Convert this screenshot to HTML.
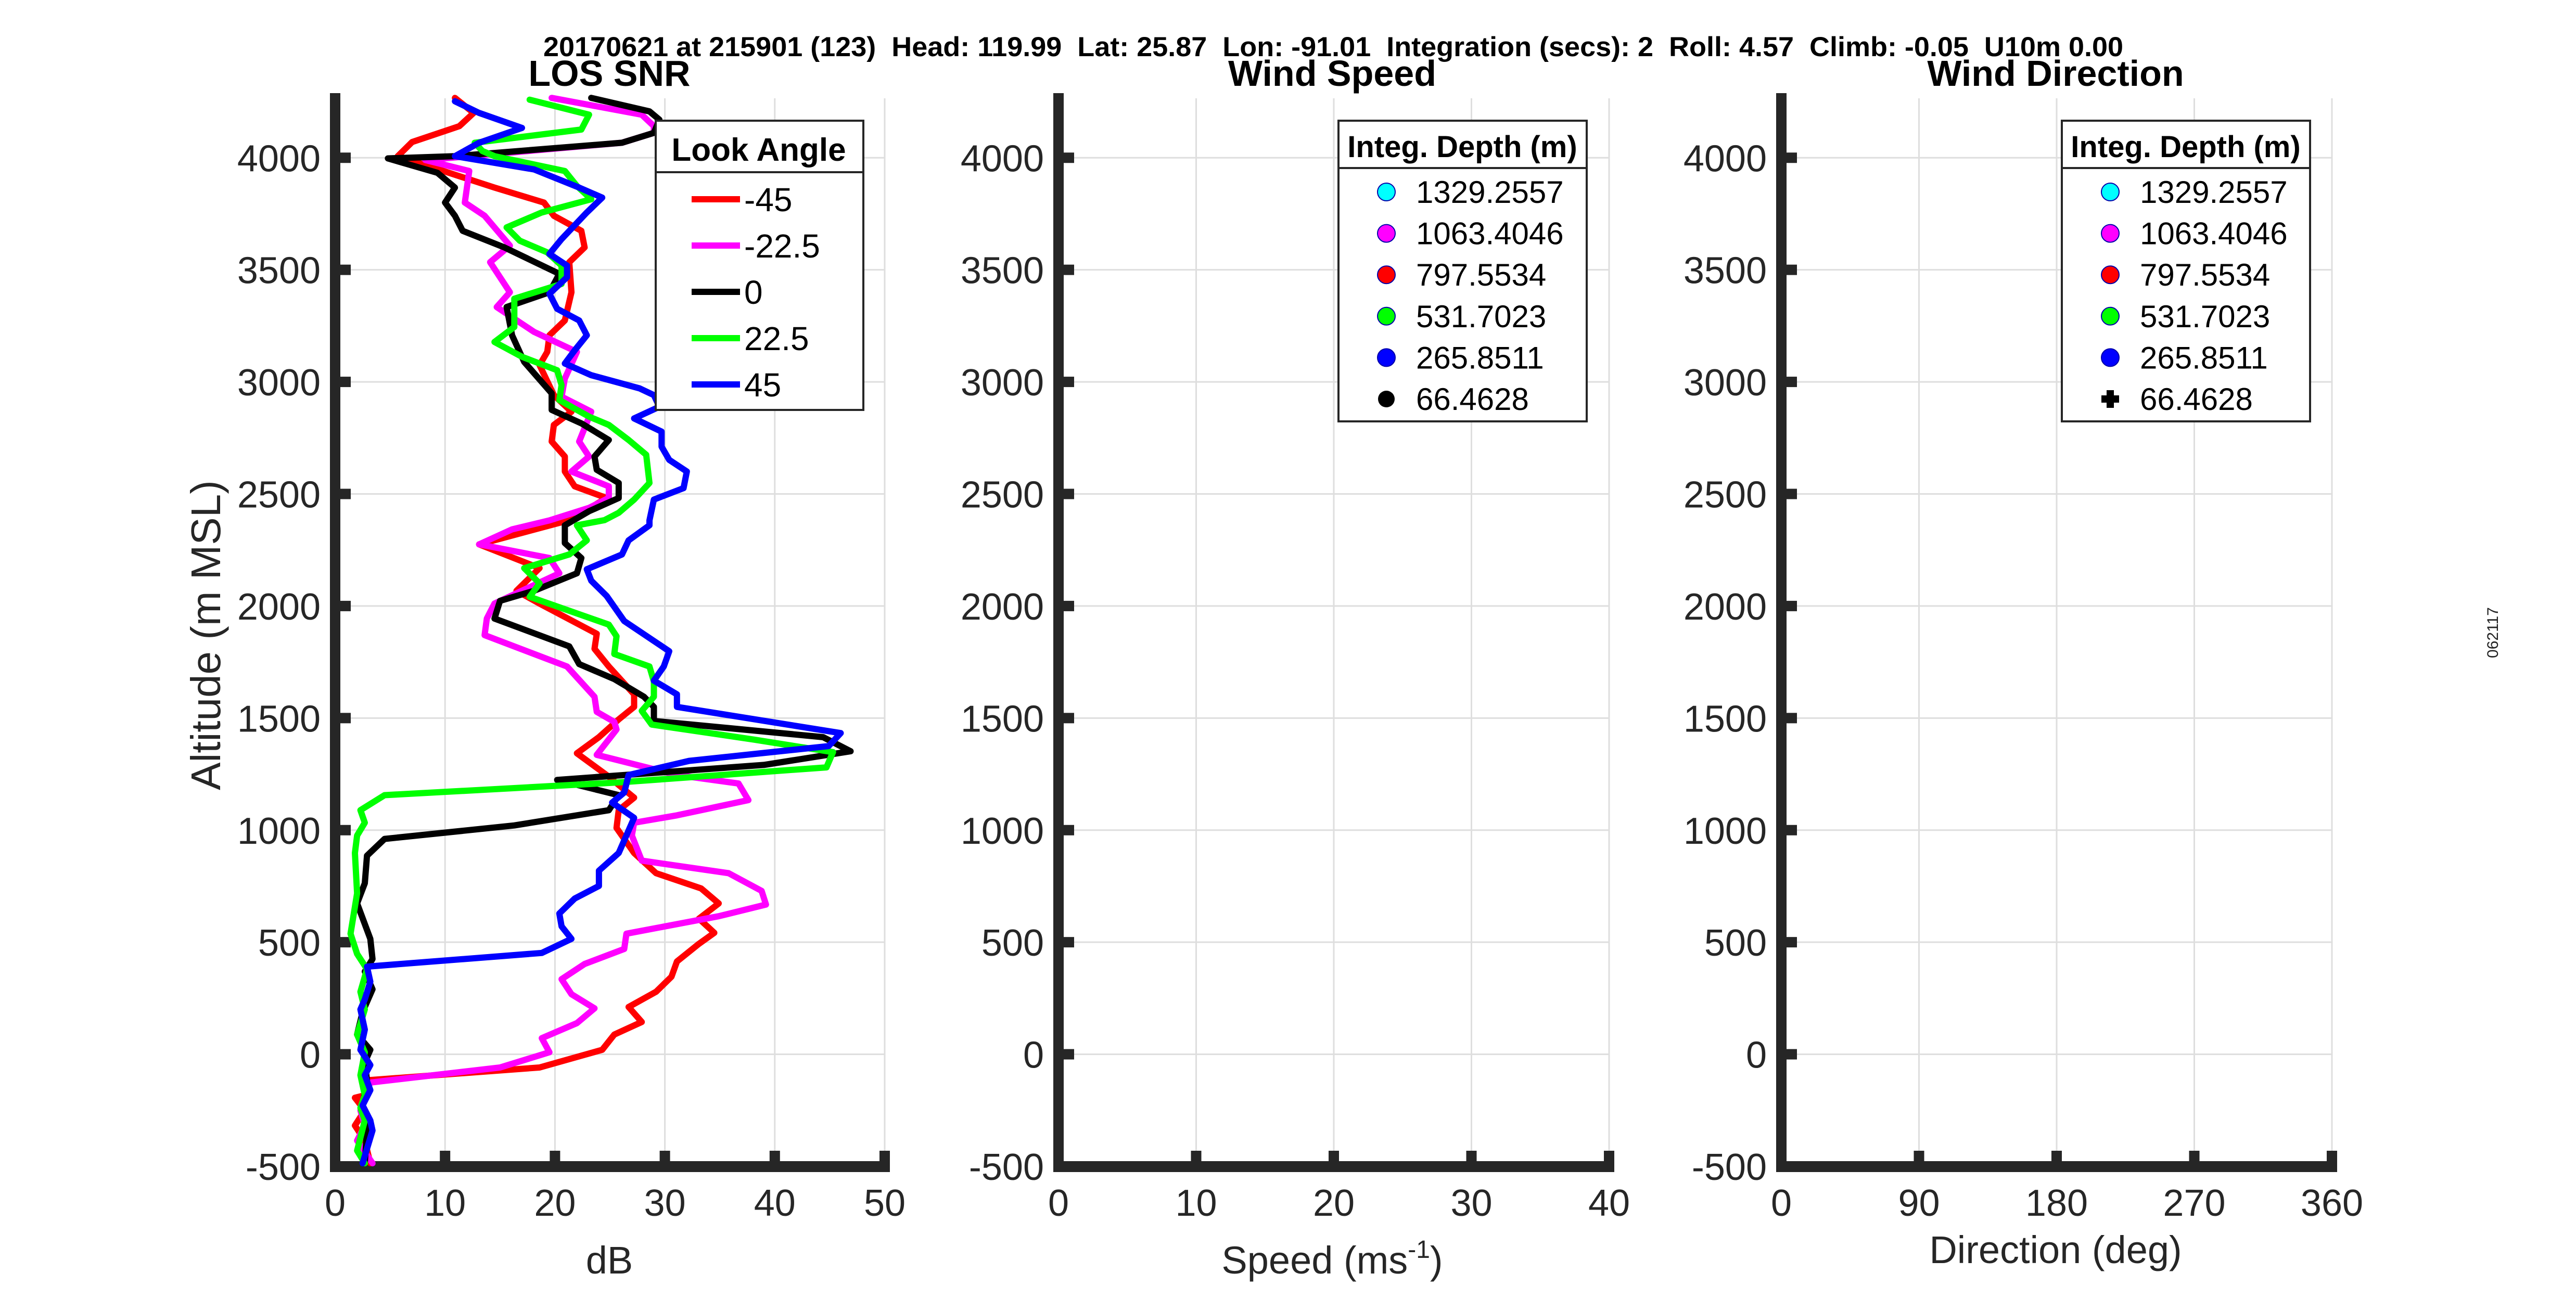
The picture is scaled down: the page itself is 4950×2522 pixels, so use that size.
<!DOCTYPE html>
<html><head><meta charset="utf-8"><style>
html,body{margin:0;padding:0;background:#fff;}
svg{display:block;font-family:"Liberation Sans",Arial,sans-serif;}
svg text{white-space:pre;}
</style></head><body>
<svg id="fig" width="4950" height="2522" viewBox="0 0 4950 2522" xmlns="http://www.w3.org/2000/svg">
<rect width="4950" height="2522" fill="#fff"/>
<text x="2562" y="108" text-anchor="middle" font-size="53" font-weight="bold" textLength="3036" lengthAdjust="spacingAndGlyphs">20170621 at 215901 (123)  Head: 119.99  Lat: 25.87  Lon: -91.01  Integration (secs): 2  Roll: 4.57  Climb: -0.05  U10m 0.00</text>
<text x="4800" y="1216" font-size="30" fill="#222" text-anchor="middle" transform="rotate(-90 4800 1216)">062117</text>
<g id="g1"></g><g id="g2"></g><g id="g3"></g>
</svg>
<script>
const altTicks=[-500,0,500,1000,1500,2000,2500,3000,3500,4000];
const snrTicks=[0,10,20,30,40,50];
const speedTicks=[0,10,20,30,40];
const dirTicks=[0,90,180,270,360];
const lookAngles=['-45','-22.5','0','22.5','45'];
const lookColors=['#ff0000','#ff00ff','#000000','#00ff00','#0000ff'];
const depthLabels=['1329.2557','1063.4046','797.5534','531.7023','265.8511','66.4628'];
const depthColors=['#00ffff','#ff00ff','#ff0000','#00ff00','#0000ff','#000000'];

const altRed=[4267,4200,4141,4070,4007,3867,3800,3741,3674,3600,3534,3400,3274,3208,3134,3075,2941,2867,2808,2734,2667,2600,2534,2482,2383,2275,2169,2068,2011,1876,1809,1730,1606,1550,1494,1415,1343,1246,1145,1089,1010,898,808,740,673,605,542,493,414,346,279,211,144,88,20,-59,-115,-183,-194,-250,-318,-385,-486];
const snrRed=[10.9,12.6,11.3,7.0,5.7,14.5,19.0,19.9,22.4,22.7,21.3,21.5,20.9,19.5,19.3,18.6,19.9,21.5,19.9,19.7,20.9,20.9,21.8,24.7,21.3,13.1,18.6,16.5,18.6,23.8,23.6,24.9,27.2,27.2,25.8,24.0,22.0,24.7,27.2,25.8,25.6,27.2,29.2,33.3,34.9,33.1,34.5,33.1,31.1,30.6,29.2,26.7,27.9,25.4,24.3,18.6,3.2,2.7,1.8,2.7,1.8,2.7,3.2];
const altMag=[4267,4192,4141,4111,4067,3990,3941,3800,3741,3608,3534,3400,3334,3223,3134,3015,2934,2867,2734,2667,2600,2534,2482,2438,2382,2342,2275,2214,2146,2011,1944,1870,1730,1595,1528,1483,1449,1336,1246,1208,1134,1066,1033,976,864,808,729,668,616,538,470,403,335,268,205,139,72,9,-59,-126,-183,-250,-318,-385,-486];
const snrMag=[19.7,27.9,29.0,29.0,26.1,8.2,12.2,11.8,13.6,15.9,14.1,15.9,14.7,18.1,22.0,20.9,20.6,23.3,22.2,23.1,21.5,24.9,24.9,23.1,19.5,16.1,13.1,19.5,20.4,14.5,13.8,13.6,21.1,23.6,23.8,25.4,25.6,23.8,31.1,36.7,37.6,31.1,27.2,27.0,27.9,35.8,38.8,39.2,34.9,26.5,26.3,22.7,20.6,21.5,23.6,22.0,18.8,19.5,15.0,3.2,2.7,2.3,2.7,2.0,3.4];
const altBlk=[4267,4207,4170,4111,4067,4007,3997,3933,3867,3800,3741,3674,3600,3482,3400,3334,3208,3089,2949,2875,2815,2741,2667,2608,2549,2482,2423,2360,2281,2214,2146,2068,2023,1944,1820,1741,1674,1595,1550,1487,1415,1352,1291,1224,1156,1089,1021,961,886,763,673,515,425,369,290,189,88,20,-36,-115,-228,-340,-486];
const snrBlk=[23.3,28.6,29.5,29.0,26.1,10.9,4.8,9.3,10.9,10.0,10.9,11.6,15.4,20.4,19.5,15.6,16.1,17.2,19.7,19.7,22.4,24.9,23.6,23.8,25.8,25.8,23.1,20.9,20.9,22.4,22.0,18.1,15.0,14.5,21.3,22.2,25.4,28.1,29.0,29.0,44.4,46.9,39.0,20.2,25.8,24.9,16.3,4.5,2.9,2.7,2.0,3.2,3.4,2.7,3.4,2.5,2.0,3.2,2.7,2.9,2.5,2.9,2.7];
const altGrn=[4259,4192,4126,4067,4030,4007,3970,3941,3874,3815,3756,3689,3630,3578,3519,3437,3371,3245,3178,3112,3052,2986,2919,2845,2808,2741,2675,2549,2475,2416,2383,2360,2293,2230,2169,2101,2041,1917,1865,1786,1730,1663,1595,1532,1471,1404,1348,1280,1213,1156,1089,1033,976,898,718,538,448,380,279,200,88,9,-93,-183,-239,-295,-430,-486];
const snrGrn=[17.7,23.1,22.4,12.7,13.4,14.5,18.1,20.9,22.0,23.3,18.8,15.6,16.8,19.3,20.6,20.6,16.3,16.3,14.5,17.0,20.2,20.6,20.4,23.1,24.9,26.7,28.3,28.6,27.2,25.8,24.5,22.0,22.9,21.3,17.2,18.6,17.7,24.9,25.6,25.4,28.6,29.0,29.0,27.9,28.8,38.1,45.3,44.7,25.8,4.5,2.3,2.7,2.0,1.8,2.0,1.4,2.0,2.9,2.3,2.7,2.0,2.7,2.3,2.7,2.3,2.7,2.0,2.7];
const altBlu=[4252,4200,4133,4067,4007,3948,3867,3822,3756,3637,3571,3519,3467,3393,3326,3274,3208,3141,3082,3030,2971,2941,2889,2837,2778,2711,2652,2600,2526,2475,2382,2360,2293,2230,2164,2113,2045,1933,1798,1730,1667,1606,1550,1433,1375,1309,1246,1168,1123,1055,898,819,751,695,628,571,515,452,391,324,245,200,110,20,-48,-93,-160,-228,-295,-340,-486];
const snrBlu=[10.9,13.1,17.0,13.1,10.9,18.1,22.2,24.3,22.9,20.6,19.5,21.1,21.1,19.5,20.2,22.2,22.9,21.8,20.9,23.3,27.7,29.0,29.5,27.2,29.7,29.7,30.4,32.0,31.7,29.0,28.6,28.6,26.7,26.1,22.9,23.3,24.7,26.3,30.4,29.9,29.0,31.1,31.1,46.0,44.9,32.2,26.7,26.3,25.2,27.2,25.8,24.0,24.0,21.8,20.4,20.6,21.5,18.8,2.9,3.2,2.7,2.3,2.7,2.3,3.2,2.7,3.2,2.5,3.2,3.4,2.5];

const NS='http://www.w3.org/2000/svg';
function mk(parent,tag,attrs,text){const e=document.createElementNS(NS,tag);for(const k in attrs)e.setAttribute(k,attrs[k]);if(text!==undefined)e.textContent=text;parent.appendChild(e);return e;}
const Y0=2242,Y1=174,YMIN=-500,YMAX=4300;
function yS(v){return Y0-(v-YMIN)*(Y0-Y1)/(YMAX-YMIN);}

function panel(g,x0,x1,xmin,xmax,xticks,title,xlabel,tcx,xlabY){
  const xS=v=>x0+(v-xmin)*(x1-x0)/(xmax-xmin);
  xticks.forEach(t=>{if(t===xmin)return;
    const l=mk(g,'line',{x1:xS(t),x2:xS(t),y1:189,y2:2232,stroke:'#dedede','stroke-width':3});
    
    });
  altTicks.forEach(t=>{if(t===YMIN)return;
    const l=mk(g,'line',{x1:x0,x2:x1,y1:yS(t),y2:yS(t),stroke:'#dedede','stroke-width':3});
    
    });
  const ya=mk(g,'rect',{x:x0-10,y:179,width:20,height:2253-179,fill:'#262626'});
  
  
  const xa=mk(g,'rect',{x:x0-10,y:2232,width:x1-x0+20,height:21,fill:'#262626'});
  
  
  altTicks.forEach(t=>{
    const r=mk(g,'rect',{x:x0+10,y:yS(t)-10,width:20,height:20,fill:'#262626'});
    
    
    const tx=mk(g,'text',{x:x0-28,y:yS(t)+26,'text-anchor':'end','font-size':72,fill:'#262626'},String(t));
    
    });
  xticks.forEach(t=>{
    const r=mk(g,'rect',{x:xS(t)-10,y:2212,width:20,height:20,fill:'#262626'});
    
    
    const tx=mk(g,'text',{x:xS(t),y:2337,'text-anchor':'middle','font-size':72,fill:'#262626'},String(t));
    
    });
  const tt=mk(g,'text',{x:tcx,y:165,'text-anchor':'middle','font-size':70,'font-weight':'bold'},title);
  
  
  const xl=mk(g,'text',{x:tcx,y:xlabY,'text-anchor':'middle','font-size':74,fill:'#262626'});
  
  
  if(xlabel==='speed'){
    mk(xl,'tspan',{},'Speed (ms');
    mk(xl,'tspan',{'font-size':48,dy:-30},'-1');
    mk(xl,'tspan',{dy:30},')');
  } else xl.textContent=xlabel;
  return xS;
}

const g1=document.getElementById('g1');
const xS1=panel(g1,644,1700,0,50,snrTicks,'LOS SNR','dB',1171,2448);
const yl=mk(g1,'text',{x:423,y:1221,'text-anchor':'middle','font-size':80,fill:'#262626',transform:'rotate(-90 423 1221)'},'Altitude (m MSL)');


const series=[[altRed,snrRed],[altMag,snrMag],[altBlk,snrBlk],[altGrn,snrGrn],[altBlu,snrBlu]];
series.forEach((s,i)=>{
  const pts=s[0].map((a,k)=>xS1(s[1][k]).toFixed(1)+','+yS(a).toFixed(1)).join(' ');
  const p=mk(g1,'polyline',{points:pts,fill:'none',stroke:lookColors[i],'stroke-width':12,'stroke-linejoin':'round','stroke-linecap':'round'});
  
  
});
const lg=mk(g1,'g',{});


mk(lg,'rect',{x:1260,y:232,width:399,height:556,fill:'#fff',stroke:'#262626','stroke-width':4});
mk(lg,'line',{x1:1260,x2:1659,y1:331,y2:331,stroke:'#262626','stroke-width':4});
const lt=mk(lg,'text',{x:1458,y:309,'text-anchor':'middle','font-size':62,'font-weight':'bold'},'Look Angle');


lookAngles.forEach((a,i)=>{
  const cy=383+i*89;
  const e=mk(lg,'g',{});
  
  
  mk(e,'line',{x1:1329,x2:1422,y1:cy,y2:cy,stroke:lookColors[i],'stroke-width':12});
  mk(e,'text',{x:1430,y:cy+23,'font-size':64},a);
});

function depthLegend(g,x,y,mx,tx,plus){
  const L=mk(g,'g',{});
  
  
  mk(L,'rect',{x:x,y:y,width:477,height:578,fill:'#fff',stroke:'#262626','stroke-width':4});
  mk(L,'line',{x1:x,x2:x+477,y1:y+91,y2:y+91,stroke:'#262626','stroke-width':4});
  const t=mk(L,'text',{x:x+238,y:y+70,'text-anchor':'middle','font-size':58,'font-weight':'bold'},'Integ. Depth (m)');
  
  
  depthLabels.forEach((d,i)=>{
    const cy=y+137+i*79.6;
    const e=mk(L,'g',{});
    
    
    if(i===5){
      if(plus){mk(e,'rect',{x:mx-17,y:cy-7,width:34,height:14,fill:'#000'});mk(e,'rect',{x:mx-7,y:cy-17,width:14,height:34,fill:'#000'});mk(e,'circle',{cx:mx,cy:cy,r:10,fill:'#000'});}
      else mk(e,'circle',{cx:mx,cy:cy,r:16,fill:'#000'});
    } else mk(e,'circle',{cx:mx,cy:cy,r:17,fill:depthColors[i],stroke:'#0000aa','stroke-width':2});
    mk(e,'text',{x:tx,y:cy+21,'font-size':60},d);
  });
}
const g2=document.getElementById('g2');
panel(g2,2034,3092,0,40,speedTicks,'Wind Speed','speed',2560,2448);
depthLegend(g2,2572,232,2664,2721,false);
const g3=document.getElementById('g3');
panel(g3,3423,4481,0,360,dirTicks,'Wind Direction','Direction (deg)',3950,2428);
depthLegend(g3,3962,232,4055,4112,true);
</script>
</body></html>
